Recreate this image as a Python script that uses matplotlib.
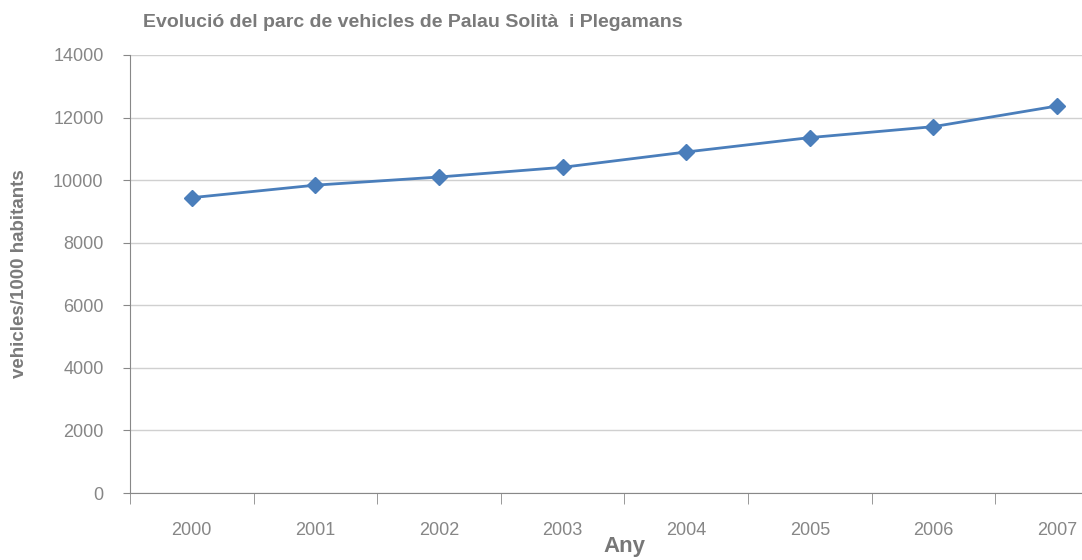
import matplotlib.pyplot as plt
import numpy as np

plt.rcParams['font.family'] = ['Liberation Sans', 'DejaVu Sans']

years = ['2000', '2001', '2002', '2003', '2004', '2005', '2006', '2007']
vehicles = [9440, 9840, 10100, 10410, 10900, 11360, 11710, 12370]

fig = plt.figure(figsize=(10.82, 5.6), dpi=100)
ax = fig.add_axes([0.1201, 0.1196, 0.914, 0.7822])

x = np.arange(len(years))
ax.plot(x, vehicles, color='#4a7ebb', linewidth=2, marker='D', markersize=8,
        zorder=3)

ax.set_xlim(-0.5, len(years) - 0.5)
ax.set_ylim(0, 14000)
ax.set_yticks(np.arange(0, 14001, 2000))
ax.yaxis.grid(True, color='#d0d0d0', linewidth=1)
ax.set_axisbelow(True)

# category labels between tick marks
ax.set_xticks(x)
ax.set_xticklabels(years)
ax.set_xticks(np.arange(-0.5, len(years), 1), minor=True)
ax.tick_params(axis='x', which='major', length=0, pad=21, labelsize=13, labelcolor='#868686')
ax.tick_params(axis='x', which='minor', length=8, direction='out', color='#888888')
ax.tick_params(axis='y', length=5, direction='out', color='#888888', labelsize=13,
               labelcolor='#868686', pad=14)

for s in ['top', 'right']:
    ax.spines[s].set_visible(False)
for s in ['left', 'bottom']:
    ax.spines[s].set_color('#888888')

ax.set_xlabel('Any', fontsize=16, fontweight='bold', color='#777777', labelpad=-2)
ax.set_ylabel('vehicles/1000 habitants', fontsize=13.5, fontweight='bold', color='#7a7a7a',
              labelpad=18)
fig.text(0.132, 0.96, 'Evolució del parc de vehicles de Palau Solità  i Plegamans',
         fontsize=14, fontweight='bold', color='#7a7a7a', va='center')

fig.savefig('out.png', dpi=100)
